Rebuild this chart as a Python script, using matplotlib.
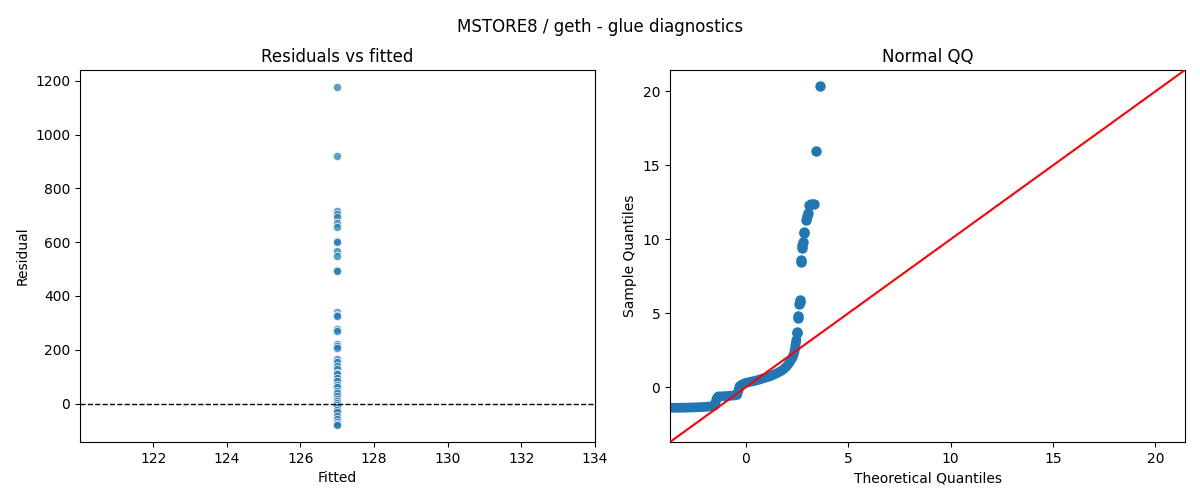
import matplotlib
matplotlib.use("Agg")
import matplotlib.pyplot as plt

# ---- data ----
fitted_value = 127.0
residuals = [1177, 922, 716, 706, 693, 673, 655, 605, 602, 566, 548, 497, 492,
             340, 330, 326, 278, 268, 222, 214, 205, 165, 155, 140, 128, 115,
             108, 95, 82, 70, 60, 48, 40, 28, 16, 10, 3, -5, -12, -25, -32,
             -45, -58, -68, -75, -80]

# dense body of the QQ plot (theoretical, sample)
qq_body_theo = [-3.61, -3.0, -2.5, -2.0, -1.6, -1.52, -1.42, -1.35, -1.0, -0.6,
                -0.42, -0.3, -0.2, 0.0, 0.5, 0.83, 1.2, 1.49, 1.75, 1.98, 2.15,
                2.30, 2.38, 2.43, 2.47]
qq_body_samp = [-1.39, -1.38, -1.36, -1.33, -1.28, -1.24, -0.75, -0.62, -0.60,
                -0.56, -0.52, 0.08, 0.17, 0.30, 0.45, 0.59, 0.75, 0.93, 1.12,
                1.38, 1.70, 2.05, 2.40, 2.85, 3.2]
# upper-tail points
qq_tail_theo = [2.50, 2.52, 2.56, 2.57, 2.61, 2.63, 2.64, 2.68, 2.70, 2.74, 2.76,
                2.79, 2.82, 2.85, 2.92, 2.97, 3.03, 3.11, 3.20, 3.31, 3.43, 3.61]
qq_tail_samp = [3.68, 3.75, 4.70, 4.80, 5.60, 5.75, 5.90, 8.50, 8.60, 9.40, 9.60,
                9.80, 10.40, 10.50, 11.30, 11.60, 11.80, 12.35, 12.40, 12.40,
                16.00, 20.40]

qq_lims = [-3.7, 21.45]
left_xticks = [122, 124, 126, 128, 130, 132, 134]

fig, (ax1, ax2) = plt.subplots(1, 2, figsize=(12, 5), dpi=100)
fig.subplots_adjust(left=0.0667, right=0.9875, top=0.86, bottom=0.116, wspace=0.1456)

# Residuals vs fitted
ax1.scatter([fitted_value] * len(residuals), residuals, s=36, color="#1f77b4",
            alpha=0.72, edgecolor="white", linewidth=0.75, zorder=2)
ax1.axhline(0, color="black", linestyle="--", linewidth=1, zorder=3)
ax1.set_xlim(120.015, 133.985)
ax1.set_xticks(left_xticks)
ax1.set_ylim(-143, 1240)
ax1.set_title("Residuals vs fitted", fontsize=12)
ax1.set_xlabel("Fitted")
ax1.set_ylabel("Residual")

# Normal QQ
ax2.plot(qq_body_theo, qq_body_samp, color="#1f77b4", linewidth=7.0,
         solid_capstyle="round", solid_joinstyle="round", zorder=2)
ax2.plot(qq_tail_theo, qq_tail_samp, "o", color="#1f77b4", markersize=6.5, zorder=2)
ax2.plot(qq_lims, qq_lims, color="red", linewidth=1.5, zorder=3)
ax2.set_xlim(qq_lims)
ax2.set_ylim(qq_lims)
ax2.set_xticks([0, 5, 10, 15, 20])
ax2.set_yticks([0, 5, 10, 15, 20])
ax2.set_title("Normal QQ", fontsize=12)
ax2.set_xlabel("Theoretical Quantiles")
ax2.set_ylabel("Sample Quantiles")

fig.suptitle("MSTORE8 / geth - glue diagnostics", fontsize=12, y=0.965)
fig.savefig("out.png", dpi=100)
